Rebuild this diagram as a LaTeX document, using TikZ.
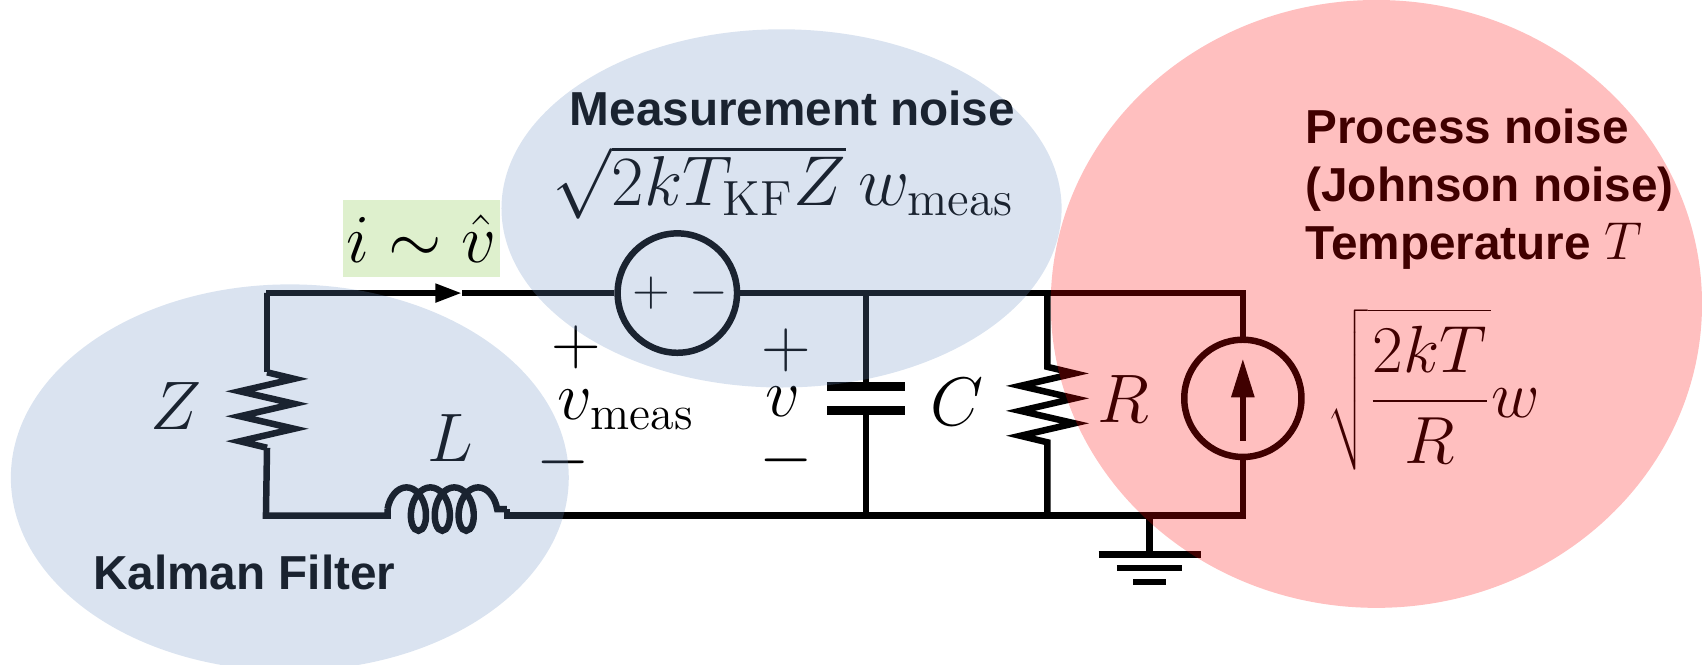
\documentclass[tikz,border=0pt]{standalone}
\usepackage{fix-cm}
\usepackage{fontspec}
\setsansfont{Liberation Sans}
\usetikzlibrary{positioning,arrows.meta,decorations.pathmorphing}
\definecolor{kfblue}{RGB}{107,143,195}
\definecolor{noisered}{RGB}{255,0,0}
\definecolor{hatgreen}{RGB}{222,240,205}
\tikzset{
	wire/.style={line width=1.7pt},
	plate/.style={line width=2.3pt},
	src/.style={circle,draw,line width=1.7pt,minimum size=1.1cm,inner sep=0pt},
	lbl/.style={font=\fontsize{18}{21}\selectfont,inner sep=0pt},
	sign/.style={font=\fontsize{13}{15}\selectfont,inner sep=0pt},
	caption/.style={font=\sffamily\bfseries\fontsize{12.5}{15.1}\selectfont,align=left,inner sep=0pt},
	zone/.style={fill opacity=0.25}
}

\begin{document}
\begin{tikzpicture}
	\useasboundingbox (0,0) rectangle (15.68,6.12);
	% corners and junctions
	\coordinate (tl) at (2.45,3.42);
	\coordinate (bl) at (2.45,1.37);
	\coordinate (tr) at (11.45,3.42);
	\coordinate (br) at (11.45,1.37);
	\coordinate (iarr) at (4.26,3.42);
	\coordinate (ztop) at (2.46,2.69);
	\coordinate (lA) at (3.57,1.43);
	\coordinate (lB) at (4.67,1.43);
	\coordinate (cj) at (7.98,3.42);
	\coordinate (ctop) at (7.98,2.56);
	\coordinate (cbot) at (7.98,2.34);
	\coordinate (cg) at (7.98,1.37);
	\coordinate (rj) at (9.65,3.42);
	\coordinate (rtop) at (9.65,2.74);
	\coordinate (rg) at (9.65,1.37);
	\coordinate (gnd) at (10.59,1.37);
	\coordinate (gndT) at (10.59,1.01);
	% sources
	\node[src] (vs) at (6.24,3.42) {};
	\node[sign] (vsp) at ([xshift=-0.24cm]vs.center) {$+$};
	\node[sign] (vsm) at ([xshift=0.29cm]vs.center) {$-$};
	\node[src,minimum size=1.08cm] (is) at (11.45,2.45) {};
	\draw[wire,-{Triangle[length=0.36cm,width=0.2cm]}] ([yshift=-0.39cm]is.center) -- ([yshift=0.37cm]is.center);
	% wires
	\draw[wire,-{Triangle[length=0.25cm,width=0.16cm]}] (tl) -- (iarr);
	\draw[wire] (iarr) -- (vs.west);
	\draw[wire] (vs.east) -- (tr) -- (is.north);
	\draw[wire] (is.south) -- (br) -- (4.67,1.37) -- (lB);
	\draw[wire,decorate,decoration={coil,aspect=0.6,segment length=0.22cm,amplitude=0.2cm}] (lA) -- (lB);
	\draw[wire] (lA) -- (3.57,1.37) -- (bl) -- (2.46,1.995);
	\draw[wire] (ztop) -- ++(0.25,-0.06) -- ++(-0.5,-0.115) -- ++(0.5,-0.115) -- ++(-0.5,-0.115)
		-- ++(0.5,-0.115) -- ++(-0.5,-0.115) -- ++(0.25,-0.06);
	\draw[wire] (ztop) -- (2.46,3.42) -- (tl);
	\draw[wire] (cj) -- (ctop);
	\draw[wire] (cbot) -- (cg);
	\draw[plate] ([xshift=-0.36cm]ctop) -- ([xshift=0.36cm]ctop);
	\draw[plate] ([xshift=-0.36cm]cbot) -- ([xshift=0.36cm]cbot);
	\draw[wire] (rj) -- (rtop) -- ++(0.25,-0.06) -- ++(-0.5,-0.115) -- ++(0.5,-0.115) -- ++(-0.5,-0.115)
		-- ++(0.5,-0.115) -- ++(-0.5,-0.115) -- ++(0.25,-0.06) -- (rg);
	% ground
	\draw[wire] (gnd) -- (gndT);
	\draw[wire] ([xshift=-0.47cm]gndT) -- ([xshift=0.47cm]gndT);
	\draw[wire] ([shift={(-0.3cm,-0.125cm)}]gndT) -- ([shift={(0.3cm,-0.125cm)}]gndT);
	\draw[wire] ([shift={(-0.15cm,-0.25cm)}]gndT) -- ([shift={(0.15cm,-0.25cm)}]gndT);
	% labels
	\node[lbl] (zlab) at (1.62,2.38) {$Z$};
	\node[lbl] (llab) at (4.15,2.08) {$L$};
	\node[lbl] (vmp) at (5.31,2.92) {$+$};
	\node[lbl] (vmeas) at (5.77,2.34) {$v_{\mathrm{meas}}$};
	\node[lbl] (vmm) at (5.19,1.86) {$-$};
	\node[lbl] (vp) at (7.24,2.89) {$+$};
	\node[lbl] (vlab) at (7.21,2.42) {$v$};
	\node[lbl] (vm) at (7.24,1.88) {$-$};
	\node[lbl] (clab) at (8.82,2.42) {$C$};
	\node[lbl] (rlab) at (10.35,2.44) {$R$};
	\node[lbl,font=\fontsize{17.5}{20}\selectfont,anchor=base] (jlab) at (13.21,2.27) {$\displaystyle\sqrt{\frac{2kT}{R}}w$};
	\node[lbl,font=\fontsize{18.5}{21}\selectfont,anchor=base] (mlab) at (7.22,4.23) {$\sqrt{2kT_{\mathrm{KF}}Z}\,w_{\mathrm{meas}}$};
	\node[lbl,fill=hatgreen,minimum width=1.45cm,minimum height=0.71cm] (est) at (3.885,3.925) {$i\sim\hat{v}$};
	\node[caption] (meas) at (7.30,5.12) {Measurement noise};
	\node[caption] (kf) at (2.25,0.85) {Kalman Filter};
	\node[caption,anchor=north west] (proc) at (12.02,5.12)
		{Process noise\\(Johnson noise)\\Temperature {\fontsize{14}{15}\selectfont$T$}};
	% highlighted zones
	\fill[kfblue,zone] (2.67,1.72) ellipse [x radius=2.57cm, y radius=1.78cm];
	\fill[kfblue,zone] (7.20,4.20) ellipse [x radius=2.58cm, y radius=1.65cm];
	\fill[noisered,zone] (12.68,3.32) ellipse [x radius=3.00cm, y radius=2.80cm];
\end{tikzpicture}
\end{document}
